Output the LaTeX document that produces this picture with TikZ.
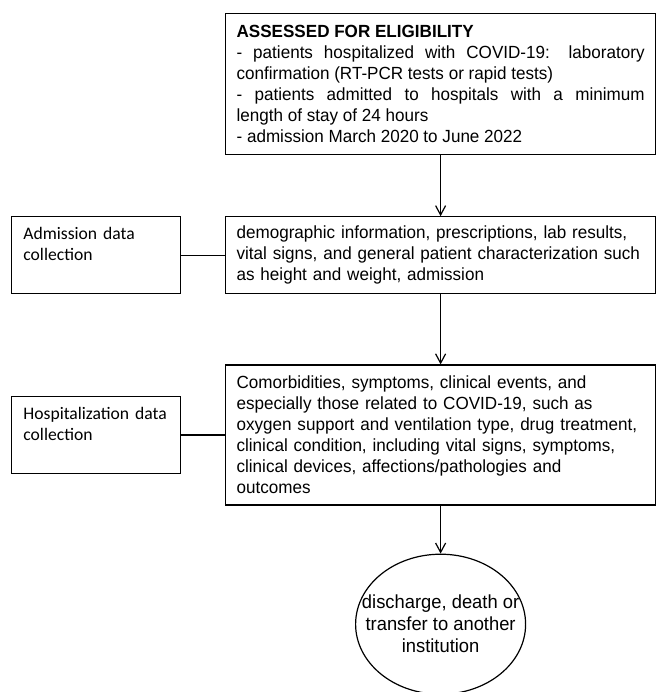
\documentclass[tikz,border=0pt]{standalone}
\usepackage{fontspec}
\setmainfont{Liberation Sans}[FakeStretch=0.97]
\newfontfamily\sidefont{Carlito}
\usetikzlibrary{arrows.meta,positioning,shapes.geometric}
\hyphenpenalty=10000

\begin{document}
\begin{tikzpicture}[node distance=33pt,>={Straight Barb[length=7pt,width=7.5pt]},line width=0.9pt]
\tikzstyle{mainbox}=[draw,minimum width=322.5pt,text width=306pt,inner xsep=8.25pt,align=left,font=\fontsize{13.2}{15.75}\selectfont]
\tikzstyle{sidebox}=[draw,minimum width=126.75pt,text width=108.75pt,inner xsep=9pt,inner ysep=5pt,align=left,text height=12.25pt,text depth=35.5pt,font=\sidefont\fontsize{13.2}{15.75}\selectfont]
\tikzstyle{endnode}=[draw,ellipse,minimum width=127.5pt,minimum height=105pt,inner sep=-14pt,align=center,font=\fontsize{14.2}{16.5}\selectfont]
\useasboundingbox (0,0) rectangle (492pt,-519pt);
% main column
\node[mainbox,align=justify,minimum height=105.75pt,anchor=north west] (elig) at (168.75pt,-9.75pt) {\textbf{ASSESSED FOR ELIGIBILITY}\\
- patients hospitalized with COVID-19: laboratory\linebreak confirmation (RT-PCR tests or rapid tests)\\
- patients admitted to hospitals with a minimum\linebreak length of stay of 24 hours\\
- admission March 2020 to June 2022};
\node[mainbox,minimum height=57.75pt,below=45.75pt of elig] (admdata) {demographic information, prescriptions, lab results,\\
vital signs, and general patient characterization such\\
as height and weight, admission};
\node[mainbox,minimum height=105pt,below=52.5pt of admdata] (hospdata) {Comorbidities, symptoms, clinical events, and\\
especially those related to COVID-19, such as\\
oxygen support and ventilation type, drug treatment,\\
clinical condition, including vital signs, symptoms,\\
clinical devices, affections/pathologies and\\
outcomes};
\node[endnode,below=36pt of hospdata] (outcome) {discharge, death or\\transfer to another\\institution};
% side labels
\node[sidebox,left=of admdata] (admlabel) {Admission data collection};
\node[sidebox,left=of hospdata] (hosplabel) {Hospitalization data collection};
\draw[->] (elig) -- (admdata);
\draw[->] (admdata) -- (hospdata);
\draw[->] (hospdata) -- (outcome);
\draw (admlabel) -- (admdata);
\draw (hosplabel) -- (hospdata);
\end{tikzpicture}
\end{document}
